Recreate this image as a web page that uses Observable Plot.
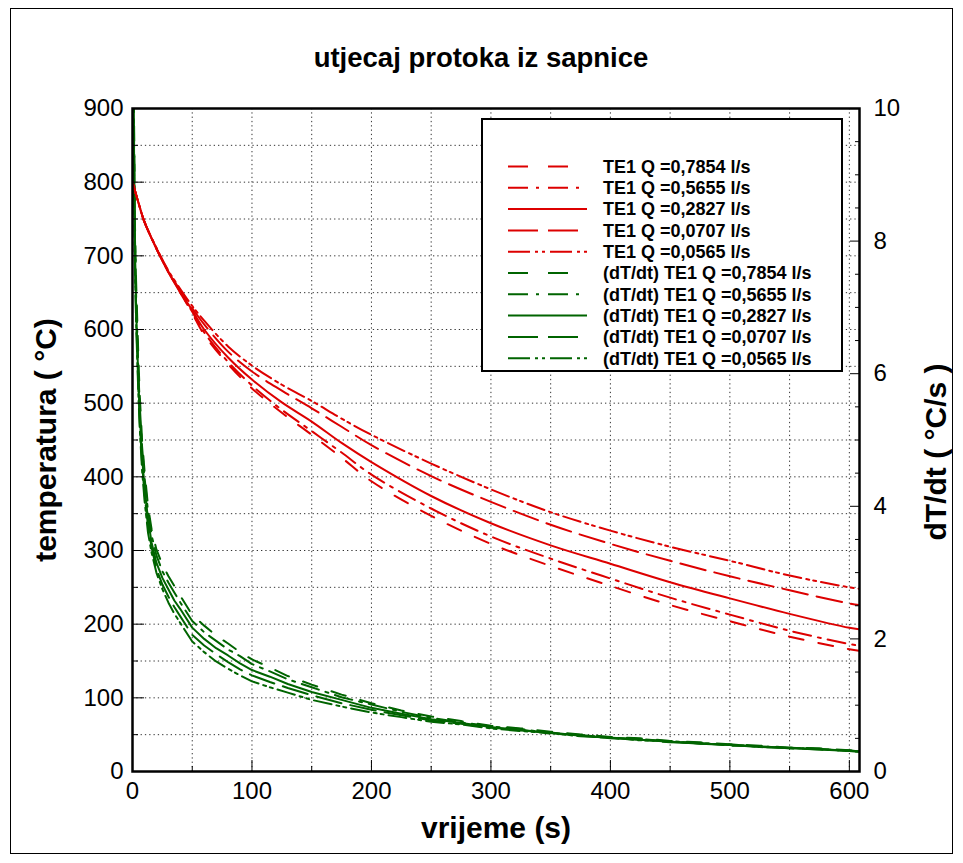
<!DOCTYPE html>
<html><head><meta charset="utf-8">
<script src="https://cdn.jsdelivr.net/npm/d3@7"></script>
<script src="https://cdn.jsdelivr.net/npm/@observablehq/plot@0.6"></script>
<style>
body{margin:0;background:#fff;font-family:"Liberation Sans",Arial,sans-serif;}
#wrap{position:relative;width:963px;height:863px;overflow:hidden;background:#fff;}
#chart{position:absolute;left:0;top:0;}
#border{position:absolute;left:10px;top:8px;width:941px;height:844px;border:1px solid #000;pointer-events:none;}
#legend{position:absolute;left:481px;top:118px;}
</style></head>
<body>
<div id="wrap"><div id="chart"></div><div id="legend"></div><div id="border"></div></div>
<script>
// ---- data ----
const flowLabels = ["0,7854", "0,5655", "0,2827", "0,0707", "0,0565"];

const redTimes = [0,5,10,20,30,40,50,60,80,100,125,150,175,200,250,300,350,400,450,500,550,600,608];
const te1_07854 = [800,772,746,710,678,650,622,593,553,520,487,457,426,394,347,309,279,252,226,204,183,166,164];
const te1_05655 = [800,772,746,710,678,650,624,596,556,524,491,462,433,403,357,319,289,262,236,213,191,173,171];
const te1_02827 = [800,772,746,710,678,651,626,600,562,532,501,475,446,420,374,337,307,282,257,235,214,195,193];
const te1_00707 = [800,772,746,710,679,653,629,607,570,543,517,493,468,443,401,366,335,309,286,265,246,228,226];
const te1_00565 = [800,772,746,711,680,655,632,612,577,551,525,503,479,457,418,383,352,327,305,286,266,250,248];

const greenTimes = [0,1,2,3,4,5,6,8,10,13,16,20,25,30,35,40,50,60,70,80,90,100,115,130,150,175,200,225,250,275,300,325,350,375,400,425,450,475,500,525,550,575,600,608];
const dTdt_07854 = [12.0,10.5,8.3,7.4,6.8,6.2,5.7,5.0,4.55,4.0,3.65,3.35,3.12,2.95,2.8,2.65,2.36,2.2,2.05,1.93,1.8,1.69,1.57,1.44,1.31,1.16,1.03,0.92,0.83,0.76,0.69,0.65,0.6,0.56,0.52,0.5,0.46,0.44,0.41,0.39,0.36,0.35,0.32,0.31];
const dTdt_05655 = [11.8,10.2,8.1,7.2,6.6,6.0,5.55,4.9,4.45,3.92,3.56,3.26,3.02,2.85,2.7,2.55,2.27,2.1,1.97,1.84,1.74,1.62,1.51,1.39,1.27,1.12,1.01,0.9,0.81,0.74,0.68,0.64,0.58,0.55,0.51,0.49,0.45,0.43,0.4,0.38,0.36,0.34,0.31,0.3];
const dTdt_02827 = [11.6,10.0,7.9,7.0,6.4,5.85,5.4,4.75,4.3,3.8,3.45,3.15,2.92,2.75,2.58,2.45,2.17,2.0,1.86,1.75,1.63,1.53,1.43,1.32,1.2,1.08,0.96,0.87,0.79,0.73,0.67,0.62,0.59,0.54,0.51,0.48,0.45,0.42,0.4,0.37,0.35,0.33,0.31,0.3];
const dTdt_00707 = [11.4,9.8,7.8,6.9,6.3,5.75,5.3,4.65,4.2,3.7,3.38,3.06,2.82,2.64,2.48,2.34,2.06,1.9,1.77,1.65,1.54,1.45,1.35,1.26,1.15,1.03,0.93,0.85,0.77,0.72,0.66,0.63,0.57,0.55,0.5,0.48,0.44,0.43,0.39,0.38,0.35,0.34,0.31,0.3];
const dTdt_00565 = [11.2,9.6,7.7,6.8,6.2,5.65,5.2,4.55,4.1,3.6,3.3,3.0,2.75,2.55,2.38,2.24,1.96,1.8,1.66,1.55,1.45,1.36,1.27,1.19,1.08,0.98,0.89,0.82,0.75,0.71,0.65,0.61,0.58,0.53,0.51,0.47,0.46,0.42,0.41,0.37,0.36,0.33,0.32,0.3];

const xMajorTicks = [0,100,200,300,400,500,600];
const xMinorTicks = [50,150,250,350,450,550];
const xGrid = [50,100,150,200,250,300,350,400,450,500,550,600];
const yMajorTicks = [0,100,200,300,400,500,600,700,800,900];
const yMinorTicks = [50,150,250,350,450,550,650,750,850];
const yGrid = [50,100,150,200,250,300,350,400,450,500,550,600,650,700,750,800,850];
const rightMajorTicks = [0,2,4,6,8,10];
const rightMinorTicks = [0.5,1,1.5,2.5,3,3.5,4.5,5,5.5,6.5,7,7.5,8.5,9,9.5];

const titleText = "utjecaj protoka iz sapnice";
const xLabel = "vrijeme (s)";
const yLabel = "temperatura ( °C)";
const y2Label = "dT/dt ( °C/s )";

// ---- styles ----
const RED = "#dd0000", GREEN = "#006400";
const lineDash = ["15,15", "18,7,3,7", null, "26,9", "18,5,3,4,3,5"];
const legendDash = ["20,20", "20,8,3,9", null, "30,10", "22,5,3,4,3,5"];
const RATIO = 90; // 10 °C/s on right axis == 900 °C on left axis

const redSeries = [te1_07854, te1_05655, te1_02827, te1_00707, te1_00565];
const greenSeries = [dTdt_07854, dTdt_05655, dTdt_02827, dTdt_00707, dTdt_00565];

const redTables = redSeries.map(vals => redTimes.map((t, i) => ({t, v: vals[i]})));
const greenTables = greenSeries.map(vals => greenTimes.map((t, i) => ({t, v: vals[i]})));

const gridStyle = {stroke: "#333", strokeDasharray: "1.3,3", strokeWidth: 1};
const font = "'Liberation Sans', Arial, sans-serif";

const marks = [
  Plot.ruleX(xGrid, gridStyle),
  Plot.ruleY(yGrid, gridStyle),
  ...greenTables.map((data, k) => Plot.line(data, {
    x: "t", y: d => d.v * RATIO, stroke: GREEN, strokeWidth: 2,
    strokeDasharray: lineDash[k], clip: true, curve: "linear"
  })),
  ...redTables.map((data, k) => Plot.line(data, {
    x: "t", y: "v", stroke: RED, strokeWidth: 2,
    strokeDasharray: lineDash[k], clip: true, curve: "catmull-rom"
  })),
  Plot.axisY(yMajorTicks, {anchor: "left", tickSize: -12, tickPadding: 21, label: null, fontSize: 24}),
  Plot.axisY(yMinorTicks, {anchor: "left", tickSize: -6, tickFormat: () => "", label: null}),
  Plot.axisX(xMajorTicks, {anchor: "bottom", tickSize: -11, tickPadding: 21, label: null, fontSize: 24}),
  Plot.axisX(xMinorTicks, {anchor: "bottom", tickSize: -5, tickFormat: () => "", label: null}),
  Plot.axisY(rightMajorTicks.map(v => v * RATIO), {anchor: "right", tickSize: -10, tickPadding: 24, tickFormat: d => String(d / RATIO), label: null, fontSize: 24}),
  Plot.axisY(rightMinorTicks.map(v => v * RATIO), {anchor: "right", tickSize: -5, tickFormat: () => "", label: null}),
  Plot.frame({stroke: "black", strokeWidth: 2.5}),
  Plot.text([titleText], {frameAnchor: "top", dx: -15, dy: -50, lineAnchor: "middle", fontSize: 27.5, fontWeight: "bold", fill: "black"}),
  Plot.text([xLabel], {frameAnchor: "bottom", dy: 57, lineAnchor: "middle", fontSize: 30, fontWeight: "bold", fill: "black"}),
  Plot.text([yLabel], {frameAnchor: "left", dx: -86, rotate: -90, textAnchor: "middle", fontSize: 30, fontWeight: "bold", fill: "black"}),
  Plot.text([y2Label], {frameAnchor: "right", dx: 77, dy: 12, rotate: -90, textAnchor: "middle", fontSize: 30, fontWeight: "bold", fill: "black"})
];

const chart = Plot.plot({
  width: 963, height: 863,
  marginLeft: 132, marginRight: 104, marginTop: 108, marginBottom: 92,
  x: {domain: [0, 608.5]},
  y: {domain: [0, 900]},
  style: {fontFamily: font, fontSize: "24px", color: "black", background: "white", overflow: "visible"},
  marks
});
document.getElementById("chart").appendChild(chart);

// ---- legend ----
const LW = 362, LH = 254;
const leg = d3.select("#legend").append("svg").attr("width", LW).attr("height", LH)
  .style("display", "block").style("font-family", font);
leg.append("rect").attr("x", 1).attr("y", 1).attr("width", LW - 2).attr("height", LH - 2)
  .attr("fill", "white").attr("stroke", "black").attr("stroke-width", 2);
const entries = [
  ...flowLabels.map((q, k) => ({text: `TE1 Q =${q} l/s`, color: RED, dash: legendDash[k]})),
  ...flowLabels.map((q, k) => ({text: `(dT/dt) TE1 Q =${q} l/s`, color: GREEN, dash: legendDash[k]}))
];
entries.forEach((e, i) => {
  const y = 48.5 + i * 21.3;
  leg.append("line").attr("x1", 27).attr("x2", 106).attr("y1", y).attr("y2", y)
    .attr("stroke", e.color).attr("stroke-width", 2)
    .attr("stroke-dasharray", e.dash);
  leg.append("text").attr("x", 122).attr("y", y).attr("dy", "0.35em")
    .attr("font-size", 18).attr("font-weight", "bold").attr("fill", "black").text(e.text);
});
</script>
</body></html>
